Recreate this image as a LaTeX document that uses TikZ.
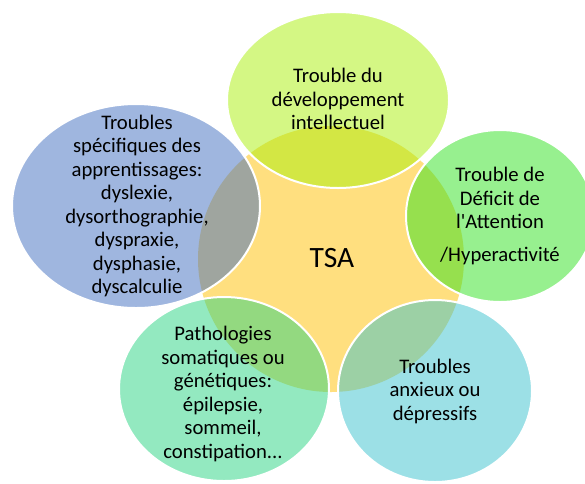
\documentclass[tikz,border=0pt]{standalone}
\usepackage{fontspec}
\setmainfont{Carlito}[Ligatures=TeXOff]
\usetikzlibrary{shapes.geometric}
\definecolor{tsaGold}{HTML}{FFC000}
\definecolor{tdiLime}{RGB}{169,239,9}
\definecolor{specBlue}{RGB}{63,109,191}
\definecolor{tdahGreen}{RGB}{47,225,31}
\definecolor{pathoTeal}{RGB}{39,211,129}
\definecolor{anxCyan}{RGB}{57,193,205}
\begin{document}
\begin{tikzpicture}[x=1pt,y=-1pt,
    bubble/.style={ellipse,draw=white,line width=2pt,fill opacity=0.5,draw opacity=1,inner sep=0pt},
    lbl/.style={align=center,inner sep=0pt,font=\fontsize{20.7}{23.5}\selectfont}]
    \useasboundingbox (0,0) rectangle (585,483);
    % centre
    \node[circle,fill=tsaGold,fill opacity=0.5,inner sep=0pt,minimum size=266] (tsa) at (331,259) {};
    % outer bubbles
    \node[bubble,fill=tdiLime,minimum width=222,minimum height=176] (tdi) at (338,100) {};
    \node[bubble,fill=specBlue,minimum width=248,minimum height=204] (spec) at (136,206) {};
    \node[bubble,fill=tdahGreen,minimum width=188,minimum height=172] (tdah) at (500,216) {};
    \node[bubble,fill=pathoTeal,minimum width=210,minimum height=184] (patho) at (224,389) {};
    \node[bubble,fill=anxCyan,minimum width=194,minimum height=182] (anx) at (435,391) {};
    % labels
    \node[font=\fontsize{29.5}{32}\selectfont] (tsaTxt) at (332,258) {TSA};
    \node[lbl] (tdiTxt) at (338,99) {Trouble du\\développement\\intellectuel};
    \node[lbl] (specTxt) at (137,206) {Troubles\\spécifiques des\\apprentissages:\\dyslexie,\\dysorthographie,\\dyspraxie,\\dysphasie,\\dyscalculie};
    \node[lbl] (tdahTxt) at (500,216) {Trouble de\\Déficit de\\l'Attention\\[9pt]/Hyperactivité};
    \node[lbl] (pathoTxt) at (223,394) {Pathologies\\somatiques ou\\génétiques:\\épilepsie,\\sommeil,\\constipation...};
    \node[lbl] (anxTxt) at (435,391) {Troubles\\anxieux ou\\dépressifs};
\end{tikzpicture}
\end{document}
